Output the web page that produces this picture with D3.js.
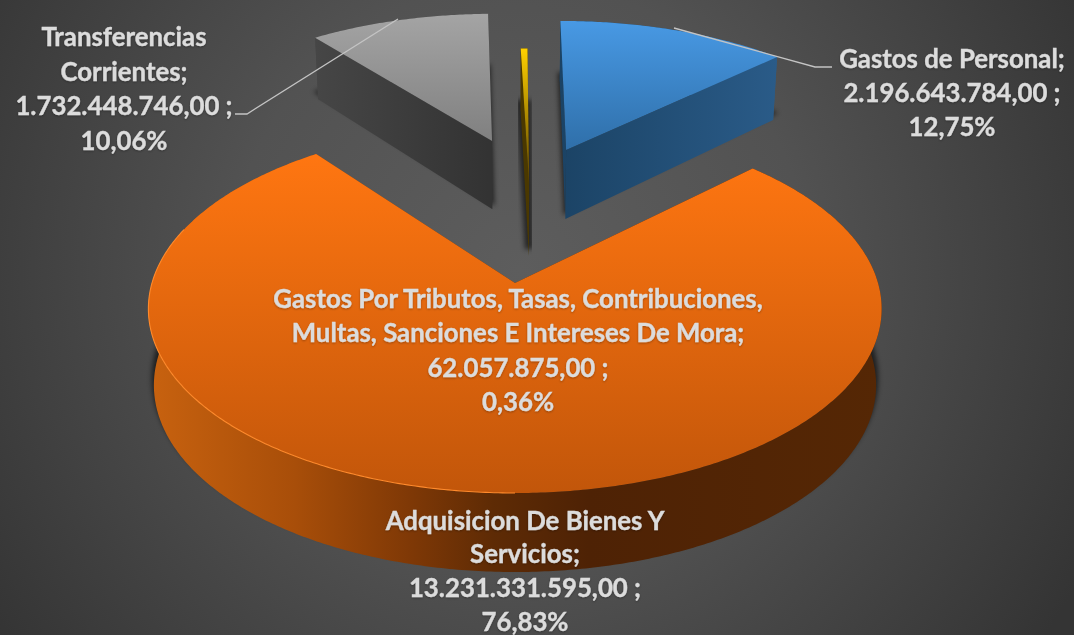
<!DOCTYPE html>
<html><head><meta charset="utf-8">
<script src="https://cdn.jsdelivr.net/npm/d3@7/dist/d3.min.js"></script>
<style>html,body{margin:0;padding:0;background:#444;overflow:hidden}svg{display:block}</style>
</head><body><div id="chart"></div>
<script>
// ---- data (pie order, clockwise from 12 o'clock) ----
const categories = ["Gastos de Personal","Adquisicion De Bienes Y Servicios","Transferencias Corrientes","Gastos Por Tributos, Tasas, Contribuciones, Multas, Sanciones E Intereses De Mora"];
const values = [2196643784, 13231331595, 1732448746, 62057875];
const valueLabels = ["2.196.643.784,00 ;","13.231.331.595,00 ;","1.732.448.746,00 ;","62.057.875,00 ;"];
const percentLabels = ["12,75%","76,83%","10,06%","0,36%"];
const nameLines = [["Gastos de Personal;"],["Adquisicion De Bienes Y","Servicios;"],["Transferencias","Corrientes;"],["Gastos Por Tributos, Tasas, Contribuciones,","Multas, Sanciones E Intereses De Mora;"]];

// ---- layout ----
const W=1074,H=635;
const cx=515,cy=283,A=363,B=180.6,p=0.14,baseShrink=0.985;
const depth=d3.scaleLinear().domain([-1.5,0,1]).range([63,76,79]);
const explode=[[0.157,-0.821],[0,0],[-0.071,-0.884],[0.042,-0.587]];
const labelPos=[[952,68,34],[525,529.5,33.8],[124,46,34.5],[518,308,34.3]];
const drawOrder=[2,3,0,1];
const topGrad=[["#4899e4","#2f6fa9"],["#ff7611","#c2560a"],["#a4a4a4","#808080"],["#ffd000","#5a4300"]];
const wallStops=[
 [[0,"#1b4365"],[1,"#2a5b88"]],
 [[0,"#c8620f"],[0.2,"#a84e09"],[0.36,"#7e3806"],[0.47,"#5e2b05"],[0.6,"#4e2205"],[1,"#552705"]],
 [[0,"#464646"],[1,"#333333"]],
 [[0,"#4a3800"],[1,"#4a3800"]]];

const svg=d3.select("#chart").append("svg").attr("width",W).attr("height",H);
const defs=svg.append("defs");
const bg=defs.append("radialGradient").attr("id","bg").attr("gradientUnits","userSpaceOnUse")
 .attr("cx",520).attr("cy",270).attr("r",640);
[[0,"#5d5d5d"],[0.45,"#525252"],[1,"#343434"]].forEach(s=>bg.append("stop").attr("offset",s[0]).attr("stop-color",s[1]));
defs.append("filter").attr("id","blur").attr("x","-30%").attr("y","-30%").attr("width","160%").attr("height","160%")
 .append("feGaussianBlur").attr("stdDeviation",2.5);
const ts=defs.append("filter").attr("id","ts").attr("x","-5%").attr("y","-10%").attr("width","110%").attr("height","125%");
ts.append("feDropShadow").attr("dx",0).attr("dy",1).attr("stdDeviation",1).attr("flood-color","#000").attr("flood-opacity",.3);
svg.append("rect").attr("width",W).attr("height",H).attr("fill","url(#bg)");

function project(u,v,bottom){
  const den=1-p*v;
  let X=cx+A*u/den, Y=cy+B*v/den;
  if(bottom){X=cx+(X-cx)*baseShrink; Y+=depth(v);}
  return [X,Y];
}
const line=d3.line();
const arcs=d3.pie().sort(null).startAngle(0).endAngle(2*Math.PI)(values);

function arcPoints(i,bottom,from,to){
  const a=arcs[i],e=explode[i],s=from===undefined?a.startAngle:from,z=to===undefined?a.endAngle:to;
  const n=Math.max(2,Math.ceil((z-s)/0.01));
  return d3.range(n+1).map(k=>{
    const t=s+(z-s)*k/n;
    return project(e[0]+Math.sin(t),e[1]-Math.cos(t),bottom);
  });
}
const apex=(i,b)=>project(explode[i][0],explode[i][1],b);

drawOrder.forEach(i=>{
  const g=svg.append("g").attr("class","slice").datum(categories[i]);
  const topArc=arcPoints(i,false),botArc=arcPoints(i,true);
  const tg=defs.append("linearGradient").attr("id","top"+i).attr("x1",0).attr("y1",0).attr("x2",0).attr("y2",1);
  tg.append("stop").attr("offset",0).attr("stop-color",topGrad[i][0]);
  tg.append("stop").attr("offset",1).attr("stop-color",topGrad[i][1]);
  const xs=botArc.concat(topArc).map(d=>d[0]);
  const wg=defs.append("linearGradient").attr("id","wall"+i).attr("gradientUnits","userSpaceOnUse")
    .attr("x1",d3.min(xs)).attr("x2",d3.max(xs)).attr("y1",0).attr("y2",0);
  wallStops[i].forEach(s=>wg.append("stop").attr("offset",s[0]).attr("stop-color",s[1]));
  // shadow on the floor
  g.append("path").attr("d",line([apex(i,true),...botArc])+"Z").attr("transform","translate(0,-7)")
    .attr("fill","#000").attr("opacity",.6).attr("filter","url(#blur)")
    .attr("stroke","#000").attr("stroke-width",i===3?8:4);
  // cut faces
  [[topArc[0],botArc[0]],[topArc[topArc.length-1],botArc[botArc.length-1]]].forEach(f=>{
    g.append("path").attr("d",line([apex(i,false),f[0],f[1],apex(i,true)])+"Z").attr("fill",`url(#wall${i})`);
  });
  // outer wall
  g.append("path").attr("d",line(topArc.concat(botArc.slice().reverse()))+"Z").attr("fill",`url(#wall${i})`);
  // top face
  g.append("path").attr("d",line([apex(i,false),...topArc])+"Z").attr("fill",`url(#top${i})`);
  // lit rim on the front-left edge of the large slice
  if(i===1) g.append("path").attr("d",line(arcPoints(1,false,Math.PI,1.6*Math.PI)))
    .attr("fill","none").attr("stroke","#ff8a2c").attr("stroke-width",1.1);
});

// leader lines
const leaders=[[[674,28],[815,67],[832,67]],[[398,19],[247,114],[235,114]]];
leaders.forEach(l=>svg.append("path").attr("d",line(l)).attr("fill","none").attr("stroke","#c4c4c4").attr("stroke-width",1.3));

// labels
categories.forEach((c,i)=>{
  const lines=[...nameLines[i],valueLabels[i],percentLabels[i]];
  const t=svg.append("text").attr("text-anchor","middle").attr("filter","url(#ts)")
    .attr("font-family","Lato, Carlito, sans-serif").attr("font-weight",700).attr("font-size",25.8)
    .attr("fill","#dcdcdc").attr("stroke","#dcdcdc").attr("stroke-width",0.35);
  lines.forEach((s,k)=>t.append("tspan").attr("x",labelPos[i][0]).attr("y",labelPos[i][1]+k*labelPos[i][2]).text(s));
});
</script></body></html>
